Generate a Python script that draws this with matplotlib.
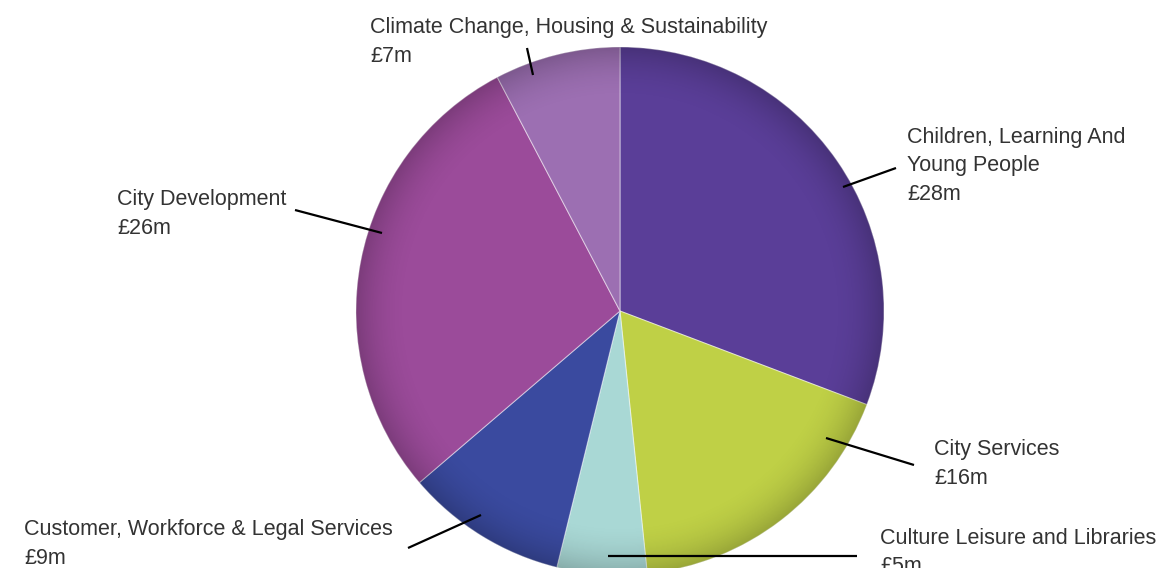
import numpy as np
import matplotlib.pyplot as plt
from matplotlib.patches import Circle

# budget split by directorate (GBP millions), clockwise from 12 o'clock
directorates = ["Children, Learning And Young People", "City Services",
                "Culture Leisure and Libraries", "Customer, Workforce & Legal Services",
                "City Development", "Climate Change, Housing & Sustainability"]
budget_m = [28, 16, 5, 9, 26, 7]
slice_colors = ["#5a3e98", "#bfd046", "#a9d8d5", "#3a4a9f", "#9b4b9a", "#9c6fb2"]

W, H = 1173, 568
CX, CY, R = 620, 311, 264   # pie centre / radius in pixels (y measured from top)


def py(y):
    # image rows -> data y (axes run bottom-up)
    return H - y


# label text lines, left x, centre y of first line, and leader line ends (pixels)
label_layout = [
    (["Children, Learning And", "Young People", "£28m"], 907, 138, [(843, 187), (896, 168)]),
    (["City Services", "£16m"], 934, 450, [(826, 438), (914, 465)]),
    (["Culture Leisure and Libraries", "£5m"], 880, 539, [(608, 556), (857, 556)]),
    (["Customer, Workforce & Legal Services", "£9m"], 24, 530, [(408, 548), (481, 515)]),
    (["City Development", "£26m"], 117, 200, [(295, 210), (382, 233)]),
    (["Climate Change, Housing & Sustainability", "£7m"], 370, 28, [(527, 48), (533, 75)]),
]
LINE_STEP = 28

fig = plt.figure(figsize=(W / 100, H / 100), dpi=100)
ax = fig.add_axes([0, 0, 1, 1])

wedges, _ = ax.pie(budget_m, colors=slice_colors, startangle=90, counterclock=False,
                   center=(CX, py(CY)), radius=R,
                   wedgeprops=dict(edgecolor=(1, 1, 1, 0.45), linewidth=0.8))

# soft darkening towards the rim to mimic the shaded look of the original
gx, gy = np.meshgrid(np.linspace(-1, 1, 400), np.linspace(-1, 1, 400))
rr = np.sqrt(gx ** 2 + gy ** 2)
shade = np.zeros((400, 400, 4))
shade[..., 3] = np.clip((rr - 0.8) / 0.2, 0, 1) ** 2 * 0.2
im = ax.imshow(shade, extent=(CX - R, CX + R, py(CY) - R, py(CY) + R),
               origin="lower", zorder=3, interpolation="bilinear")
im.set_clip_path(Circle((CX, py(CY)), R, transform=ax.transData))

for lines, tx, ty, pts in label_layout:
    for k, txt in enumerate(lines):
        ax.text(tx, py(ty + k * LINE_STEP), txt, fontsize=15.5, color="#333333",
                family="Liberation Sans", ha="left", va="center", zorder=5)
    (x0, y0), (x1, y1) = pts
    ax.plot([x0, x1], [py(y0), py(y1)], color="black", lw=1.6,
            solid_capstyle="butt", zorder=4)

ax.set_xlim(0, W)
ax.set_ylim(0, H)
ax.set_aspect("equal")
ax.axis("off")

fig.savefig("out.png", dpi=100)
